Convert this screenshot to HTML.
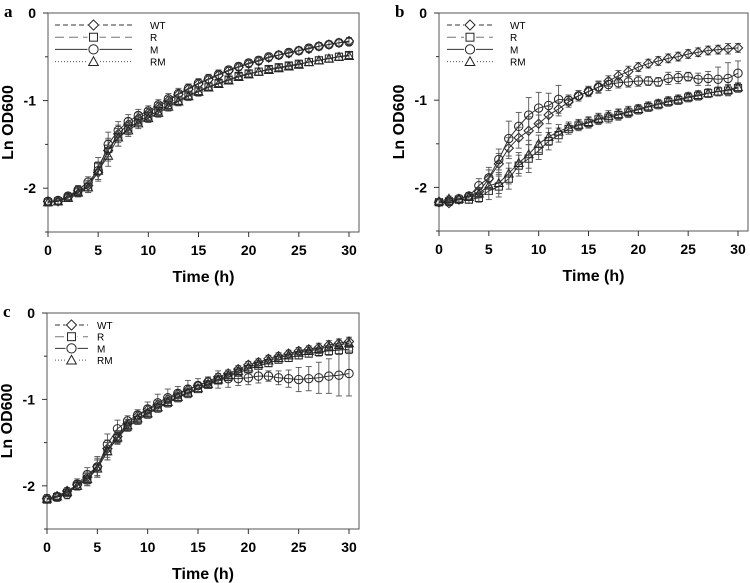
<!DOCTYPE html>
<html><head><meta charset="utf-8"><style>
body{margin:0;background:#fff;width:750px;height:583px;overflow:hidden}
svg{display:block}
</style></head><body>
<svg id="fig" width="750" height="583" xmlns="http://www.w3.org/2000/svg" font-family="Liberation Sans, sans-serif"></svg>
<script>
const hours=[0,1,2,3,4,5,6,7,8,9,10,11,12,13,14,15,16,17,18,19,20,21,22,23,24,25,26,27,28,29,30];
const xTicks=[0,5,10,15,20,25,30];
const yTicks=[0,-1,-2];
const seriesNames=["WT","R","M","RM"];
// panel a
const aWT=[-2.15,-2.15,-2.1,-2.03,-1.97,-1.82,-1.57,-1.38,-1.27,-1.2,-1.14,-1.07,-1.0,-0.93,-0.87,-0.81,-0.76,-0.71,-0.66,-0.62,-0.58,-0.55,-0.51,-0.48,-0.46,-0.43,-0.41,-0.38,-0.36,-0.34,-0.32];
const aR=[-2.16,-2.15,-2.11,-2.04,-1.99,-1.75,-1.55,-1.42,-1.32,-1.24,-1.18,-1.12,-1.05,-1.0,-0.94,-0.89,-0.84,-0.8,-0.76,-0.72,-0.69,-0.67,-0.64,-0.62,-0.6,-0.58,-0.56,-0.54,-0.52,-0.5,-0.48];
const aM=[-2.15,-2.14,-2.09,-2.02,-1.93,-1.8,-1.5,-1.34,-1.24,-1.17,-1.12,-1.05,-0.98,-0.92,-0.86,-0.8,-0.75,-0.7,-0.65,-0.61,-0.57,-0.54,-0.5,-0.48,-0.45,-0.43,-0.4,-0.38,-0.36,-0.34,-0.33];
const aRM=[-2.16,-2.15,-2.11,-2.05,-1.99,-1.8,-1.63,-1.42,-1.34,-1.26,-1.2,-1.14,-1.07,-1.01,-0.95,-0.9,-0.85,-0.81,-0.77,-0.73,-0.7,-0.67,-0.65,-0.63,-0.61,-0.59,-0.56,-0.54,-0.52,-0.5,-0.49];
const aErrM=[0.04,0.04,0.04,0.05,0.06,0.1,0.14,0.1,0.08,0.07,0.06,0.06,0.06,0.06,0.05,0.05,0.05,0.05,0.04,0.04,0.04,0.04,0.04,0.04,0.04,0.04,0.04,0.04,0.04,0.04,0.04];
const aErrO=[0.04,0.04,0.04,0.05,0.06,0.1,0.12,0.1,0.07,0.06,0.05,0.05,0.05,0.05,0.05,0.05,0.04,0.04,0.04,0.04,0.04,0.04,0.04,0.04,0.04,0.04,0.04,0.04,0.04,0.04,0.04];
// panel b
const bWT=[-2.17,-2.18,-2.14,-2.1,-2.05,-1.9,-1.73,-1.55,-1.43,-1.35,-1.27,-1.17,-1.1,-1.02,-0.95,-0.9,-0.85,-0.78,-0.72,-0.67,-0.62,-0.58,-0.55,-0.52,-0.5,-0.47,-0.45,-0.43,-0.42,-0.41,-0.4];
const bR=[-2.17,-2.16,-2.14,-2.14,-2.12,-2.04,-1.99,-1.9,-1.75,-1.67,-1.58,-1.47,-1.4,-1.33,-1.29,-1.26,-1.22,-1.2,-1.17,-1.14,-1.11,-1.08,-1.05,-1.02,-1.0,-0.97,-0.95,-0.92,-0.9,-0.89,-0.86];
const bM=[-2.17,-2.16,-2.13,-2.1,-1.98,-1.89,-1.68,-1.44,-1.3,-1.17,-1.09,-1.06,-0.99,-1.0,-0.95,-0.9,-0.85,-0.82,-0.8,-0.79,-0.78,-0.78,-0.79,-0.75,-0.74,-0.73,-0.76,-0.75,-0.76,-0.75,-0.69];
const bRM=[-2.16,-2.13,-2.13,-2.11,-2.07,-1.98,-1.95,-1.84,-1.72,-1.62,-1.5,-1.42,-1.36,-1.31,-1.28,-1.25,-1.21,-1.18,-1.16,-1.13,-1.1,-1.07,-1.04,-1.01,-0.99,-0.96,-0.94,-0.92,-0.9,-0.88,-0.85];
const bErrM=[0.03,0.03,0.04,0.04,0.08,0.12,0.12,0.2,0.16,0.2,0.18,0.14,0.16,0.06,0.06,0.05,0.07,0.07,0.06,0.06,0.06,0.05,0.05,0.07,0.07,0.05,0.07,0.08,0.14,0.18,0.14];
const bErrO=[0.03,0.03,0.04,0.04,0.05,0.1,0.12,0.12,0.12,0.16,0.1,0.1,0.08,0.06,0.06,0.06,0.06,0.06,0.06,0.06,0.05,0.05,0.05,0.05,0.05,0.05,0.05,0.05,0.05,0.06,0.05];
// panel c
const cWT=[-2.15,-2.12,-2.06,-1.99,-1.9,-1.78,-1.57,-1.43,-1.28,-1.19,-1.12,-1.06,-1.0,-0.94,-0.89,-0.84,-0.79,-0.74,-0.7,-0.65,-0.6,-0.57,-0.53,-0.5,-0.47,-0.44,-0.42,-0.4,-0.37,-0.35,-0.33];
const cR=[-2.16,-2.13,-2.08,-2.0,-1.93,-1.8,-1.6,-1.45,-1.32,-1.24,-1.17,-1.1,-1.04,-0.98,-0.93,-0.88,-0.83,-0.78,-0.74,-0.69,-0.65,-0.61,-0.58,-0.54,-0.52,-0.49,-0.47,-0.45,-0.44,-0.43,-0.42];
const cM=[-2.15,-2.13,-2.1,-1.98,-1.87,-1.78,-1.52,-1.34,-1.25,-1.18,-1.11,-1.04,-0.98,-0.93,-0.88,-0.84,-0.8,-0.77,-0.76,-0.76,-0.75,-0.73,-0.73,-0.75,-0.76,-0.77,-0.76,-0.75,-0.73,-0.72,-0.7];
const cRM=[-2.15,-2.12,-2.07,-2.0,-1.92,-1.8,-1.6,-1.44,-1.3,-1.22,-1.16,-1.09,-1.03,-0.97,-0.92,-0.87,-0.82,-0.77,-0.72,-0.67,-0.63,-0.59,-0.55,-0.52,-0.49,-0.46,-0.44,-0.42,-0.39,-0.37,-0.35];
const cErrM=[0.05,0.05,0.05,0.06,0.08,0.12,0.12,0.1,0.06,0.06,0.08,0.1,0.1,0.08,0.1,0.08,0.06,0.1,0.1,0.08,0.08,0.08,0.06,0.08,0.1,0.14,0.14,0.18,0.2,0.24,0.26];
const cErrO=[0.04,0.04,0.04,0.05,0.07,0.1,0.1,0.07,0.05,0.05,0.05,0.05,0.05,0.05,0.05,0.04,0.04,0.04,0.04,0.04,0.04,0.04,0.04,0.04,0.04,0.04,0.04,0.05,0.05,0.05,0.05];

const NS="http://www.w3.org/2000/svg";
const svg=document.getElementById('fig');
function el(tag,attrs,parent){const e=document.createElementNS(NS,tag);for(const k in attrs)e.setAttribute(k,attrs[k]);(parent||svg).appendChild(e);return e;}
const styles={WT:{dash:"5,3",col:"#333"},R:{dash:"9,5",col:"#777"},M:{dash:"none",col:"#333"},RM:{dash:"1,2",col:"#555"}};
function marker(type,x,y,g,k){
  k=k||1;
  const s={fill:"none",stroke:"#222","stroke-width":1};
  let m;
  if(type==="WT"){const d=4.6*k;m=el('polygon',Object.assign({points:`${x},${y-d} ${x+d},${y} ${x},${y+d} ${x-d},${y}`},s),g);}
  else if(type==="R"){const d=3.6*k;m=el('rect',Object.assign({x:x-d,y:y-d,width:2*d,height:2*d},s),g);}
  else if(type==="M") m=el('circle',Object.assign({cx:x,cy:y,r:4.2*k},s),g);
  else {const d=4.4*k;m=el('polygon',Object.assign({points:`${x},${y-d} ${x+d},${y+d*0.8} ${x-d},${y+d*0.8}`},s),g);}
  return m;
}
function panel(id,label,L,T,R,B,x30,legend,data,errM,errO){
  const g=el('g',{});
  
  
  const y0=T, yUnit=(B-T)/2.5;
  const X=v=>L+(x30-L)*v/30, Y=v=>y0-v*yUnit;
  const pl=el('text',{x:L-44,y:T+4,'font-family':'Liberation Serif, serif','font-weight':'bold','font-size':17},g);pl.textContent=label;
  
  
  const frame=el('rect',{x:L,y:T,width:R-L,height:B-T,fill:'none',stroke:'#555','stroke-width':1},g);
  
  
  xTicks.forEach(t=>{el('line',{x1:X(t),x2:X(t),y1:B,y2:B+5,stroke:'#333'},g);
    const tx=el('text',{x:X(t),y:B+23,'text-anchor':'middle','font-weight':'bold','font-size':14},g);tx.textContent=t;
    
    });
  yTicks.forEach(t=>{el('line',{x1:L-5,x2:L,y1:Y(t),y2:Y(t),stroke:'#333'},g);
    const ty=el('text',{x:L-12,y:Y(t)+5,'text-anchor':'end','font-weight':'bold','font-size':14},g);ty.textContent=t;
    
    });
  [-0.5,-1.5,-2.5].forEach(t=>el('line',{x1:L-3,x2:L,y1:Y(t),y2:Y(t),stroke:'#333'},g));
  const xt=el('text',{x:(L+R)/2,y:B+50,'text-anchor':'middle','font-weight':'bold','font-size':16},g);xt.textContent='Time (h)';
  
  
  const yc=(T+B)/2;
  const yt=el('text',{x:L-35,y:yc,'text-anchor':'middle','font-weight':'bold','font-size':16,transform:`rotate(-90 ${L-35} ${yc})`},g);yt.textContent='Ln OD600';
  
  
  seriesNames.forEach((n,si)=>{
    const vals=data[si];
    const err=(n==="M")?errM:errO;
    const sg=el('g',{},g);
    
    
    hours.forEach((h,i)=>{const e=err[i];
      el('line',{x1:X(h),x2:X(h),y1:Y(vals[i]-e),y2:Y(vals[i]+e),stroke:'#555','stroke-width':0.9},sg);
      el('line',{x1:X(h)-3,x2:X(h)+3,y1:Y(vals[i]-e),y2:Y(vals[i]-e),stroke:'#555','stroke-width':0.9},sg);
      el('line',{x1:X(h)-3,x2:X(h)+3,y1:Y(vals[i]+e),y2:Y(vals[i]+e),stroke:'#555','stroke-width':0.9},sg);});
    el('polyline',{points:hours.map((h,i)=>X(h)+','+Y(vals[i])).join(' '),fill:'none',stroke:'#333','stroke-width':1},sg);
    hours.forEach((h,i)=>{const m=marker(n,X(h),Y(vals[i]),sg);
      
      });
  });
  const lg=el('g',{},g);
  
  
  seriesNames.forEach((n,si)=>{const ly=legend.y0+si*legend.dy;
    const le=el('g',{},lg);
    
    
    el('line',{x1:legend.x1,x2:legend.x2,y1:ly,y2:ly,stroke:styles[n].col,'stroke-width':1,'stroke-dasharray':styles[n].dash},le);
    el('rect',{x:(legend.x1+legend.x2)/2-6,y:ly-6,width:12,height:12,fill:'#fff'},le);
    marker(n,(legend.x1+legend.x2)/2,ly,le,1.1);
    const t=el('text',{x:legend.tx,y:ly+4,'font-size':10},le);t.textContent=n;});
}
panel('a','a',48,13,359,232,349,{x1:55,x2:132,tx:150,y0:25,dy:12.2},[aWT,aR,aM,aRM],aErrM,aErrO);
panel('b','b',439,13,748,231,738,{x1:447,x2:493,tx:510,y0:25,dy:12.2},[bWT,bR,bM,bRM],bErrM,bErrO);
panel('c','c',47,313,359,529,349,{x1:55,x2:88,tx:97,y0:325,dy:11.7},[cWT,cR,cM,cRM],cErrM,cErrO);
</script>
</body></html>
